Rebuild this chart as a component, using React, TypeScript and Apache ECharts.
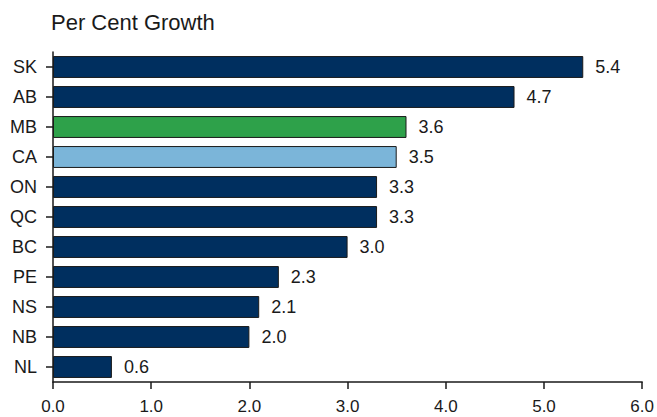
import React, { useEffect, useRef } from "react";
import * as echarts from "echarts";

const categories = ["SK", "AB", "MB", "CA", "ON", "QC", "BC", "PE", "NS", "NB", "NL"];
const values = [5.4, 4.7, 3.6, 3.5, 3.3, 3.3, 3.0, 2.3, 2.1, 2.0, 0.6];
const barColors = ["#002f5f", "#002f5f", "#2ea14a", "#7bb5d9", "#002f5f", "#002f5f", "#002f5f", "#002f5f", "#002f5f", "#002f5f", "#002f5f"];
const titleText = "Per Cent Growth";

export default function App() {
  const ref = useRef<HTMLDivElement>(null);
  useEffect(() => {
    if (!ref.current) return;
    const chart = echarts.init(ref.current, null, { renderer: "svg" });
    const font = "'Liberation Sans', Arial, sans-serif";
    chart.setOption({
      animation: false,
      backgroundColor: "#ffffff",
      title: {
        text: titleText,
        left: 46,
        top: 6,
        textStyle: { fontFamily: font, fontSize: 22, fontWeight: "normal", color: "#1a1a1a" },
      },
      grid: { left: 53, right: 14, top: 52, bottom: 35, containLabel: false },
      xAxis: {
        type: "value",
        min: 0,
        max: 6,
        interval: 1,
        axisLine: { show: true, lineStyle: { color: "#1a1a1a", width: 1.5 } },
        axisTick: { show: true, length: 7, lineStyle: { color: "#1a1a1a", width: 1.5 } },
        axisLabel: { formatter: (v: number) => v.toFixed(1), fontFamily: font, fontSize: 17, color: "#1a1a1a", margin: 16 },
        splitLine: { show: false },
      },
      yAxis: {
        type: "category",
        data: categories,
        inverse: true,
        axisLine: { show: true, lineStyle: { color: "#1a1a1a", width: 1.5 } },
        axisTick: { show: true, alignWithLabel: true, length: 7, lineStyle: { color: "#1a1a1a", width: 1.5 } },
        axisLabel: { fontFamily: font, fontSize: 18, color: "#1a1a1a", margin: 16 },
      },
      series: [
        {
          type: "bar",
          data: values.map((v, i) => ({ value: v, itemStyle: { color: barColors[i] } })),
          barWidth: "73%",
          itemStyle: { borderColor: "#1a1a1a", borderWidth: 1 },
          label: {
            show: true,
            position: "right",
            distance: 12,
            formatter: (p: any) => Number(p.value).toFixed(1),
            fontFamily: font,
            fontSize: 18,
            color: "#1a1a1a",
          },
        },
      ],
    });
    return () => chart.dispose();
  }, []);
  return <div ref={ref} style={{ width: 657, height: 417, position: "absolute", left: 0, top: 0 }} />;
}
